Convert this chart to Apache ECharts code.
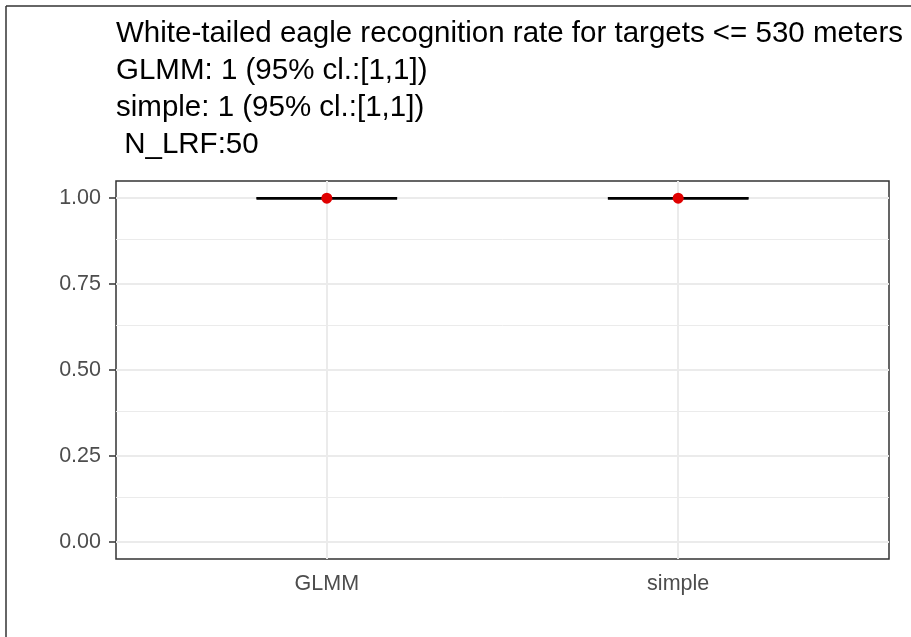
<!DOCTYPE html>
<html>
<head>
<meta charset="utf-8">
<script src="https://cdn.jsdelivr.net/npm/echarts@6/dist/echarts.min.js"></script>
<style>
  html, body { margin: 0; padding: 0; background: #fff; }
  #chart { width: 911px; height: 637px; }
</style>
</head>
<body>
<div id="chart"></div>
<script>
// Recognition-rate estimates with 95% confidence limits
const categories = ['GLMM', 'simple'];
const estimates = [1, 1];
const lowerCL = [1, 1];
const upperCL = [1, 1];
const yTicks = [0, 0.25, 0.5, 0.75, 1];
const yMinorTicks = [0.125, 0.375, 0.625, 0.875];
const titleLines = [
  'White-tailed eagle recognition rate for targets <= 530 meters',
  'GLMM: 1 (95% cl.:[1,1])',
  'simple: 1 (95% cl.:[1,1])',
  ' N_LRF:50'
];

const FONT = '"Liberation Sans", Arial, Helvetica, sans-serif';
const catPos = categories.map((c, i) => i + 1);

const chart = echarts.init(document.getElementById('chart'), null, { renderer: 'canvas' });

const gridLine = (w) => ({ color: '#ebebeb', width: w, type: 'solid' });

chart.setOption({
  animation: false,
  backgroundColor: '#ffffff',
  title: {
    text: titleLines.join('\n'),
    left: 116,
    top: 16,
    padding: 0,
    textStyle: {
      fontFamily: FONT,
      fontSize: 29.5,
      fontWeight: 'normal',
      color: '#000000',
      lineHeight: 36.7
    }
  },
  graphic: [
    { type: 'line', shape: { x1: 6, y1: 6, x2: 911, y2: 6 }, style: { stroke: '#333333', lineWidth: 1.5 } },
    { type: 'line', shape: { x1: 6, y1: 6, x2: 6, y2: 637 }, style: { stroke: '#333333', lineWidth: 1.5 } }
  ],
  grid: {
    left: 116, top: 181, width: 773, height: 378,
    show: true, borderColor: '#333333', borderWidth: 1.5, backgroundColor: 'transparent',
    containLabel: false
  },
  xAxis: {
    type: 'value',
    min: 0.4, max: 2.6,
    axisLine: { show: false },
    splitLine: { show: false },
    axisTick: { show: true, customValues: catPos, length: 7, lineStyle: { color: '#333333', width: 1.5 } },
    axisLabel: {
      show: true, customValues: catPos, margin: 14,
      formatter: (v) => categories[Math.round(v) - 1] || '',
      fontFamily: FONT, fontSize: 21.5, color: '#4d4d4d'
    }
  },
  yAxis: {
    type: 'value',
    min: -0.05, max: 1.05,
    axisLine: { show: false },
    splitLine: { show: false },
    axisTick: { show: true, customValues: yTicks, length: 7, lineStyle: { color: '#333333', width: 1.5 } },
    axisLabel: {
      show: true, customValues: yTicks, margin: 15,
      formatter: (v) => v.toFixed(2),
      fontFamily: FONT, fontSize: 21.5, color: '#4d4d4d'
    }
  },
  series: [
    {
      // panel grid lines, kept underneath the data marks
      type: 'line',
      data: [],
      silent: true,
      z: 1,
      markLine: {
        silent: true,
        z: 1,
        symbol: ['none', 'none'],
        label: { show: false },
        emphasis: { disabled: true },
        animation: false,
        data: [
          ...yMinorTicks.map(v => ({ yAxis: v, lineStyle: gridLine(1) })),
          ...yTicks.map(v => ({ yAxis: v, lineStyle: gridLine(2) })),
          ...catPos.map(v => ({ xAxis: v, lineStyle: gridLine(2) }))
        ]
      }
    },
    {
      // confidence-interval error bars
      type: 'custom',
      z: 3,
      data: categories.map((c, i) => [catPos[i], lowerCL[i], upperCL[i]]),
      renderItem: (params, api) => {
        const x = api.value(0);
        const lo = api.coord([x - 0.2, api.value(1)]);
        const hi = api.coord([x + 0.2, api.value(2)]);
        const loMid = api.coord([x, api.value(1)]);
        const hiMid = api.coord([x, api.value(2)]);
        const style = { stroke: '#000000', lineWidth: 2.5 };
        return {
          type: 'group',
          children: [
            { type: 'line', shape: { x1: lo[0], y1: lo[1], x2: api.coord([x + 0.2, api.value(1)])[0], y2: lo[1] }, style },
            { type: 'line', shape: { x1: api.coord([x - 0.2, api.value(2)])[0], y1: hi[1], x2: hi[0], y2: hi[1] }, style },
            { type: 'line', shape: { x1: loMid[0], y1: loMid[1], x2: hiMid[0], y2: hiMid[1] }, style }
          ]
        };
      }
    },
    {
      // point estimates
      type: 'scatter',
      z: 4,
      symbol: 'circle',
      symbolSize: 11,
      itemStyle: { color: '#e00000', opacity: 1 },
      data: categories.map((c, i) => [catPos[i], estimates[i]])
    }
  ]
});
</script>
</body>
</html>
